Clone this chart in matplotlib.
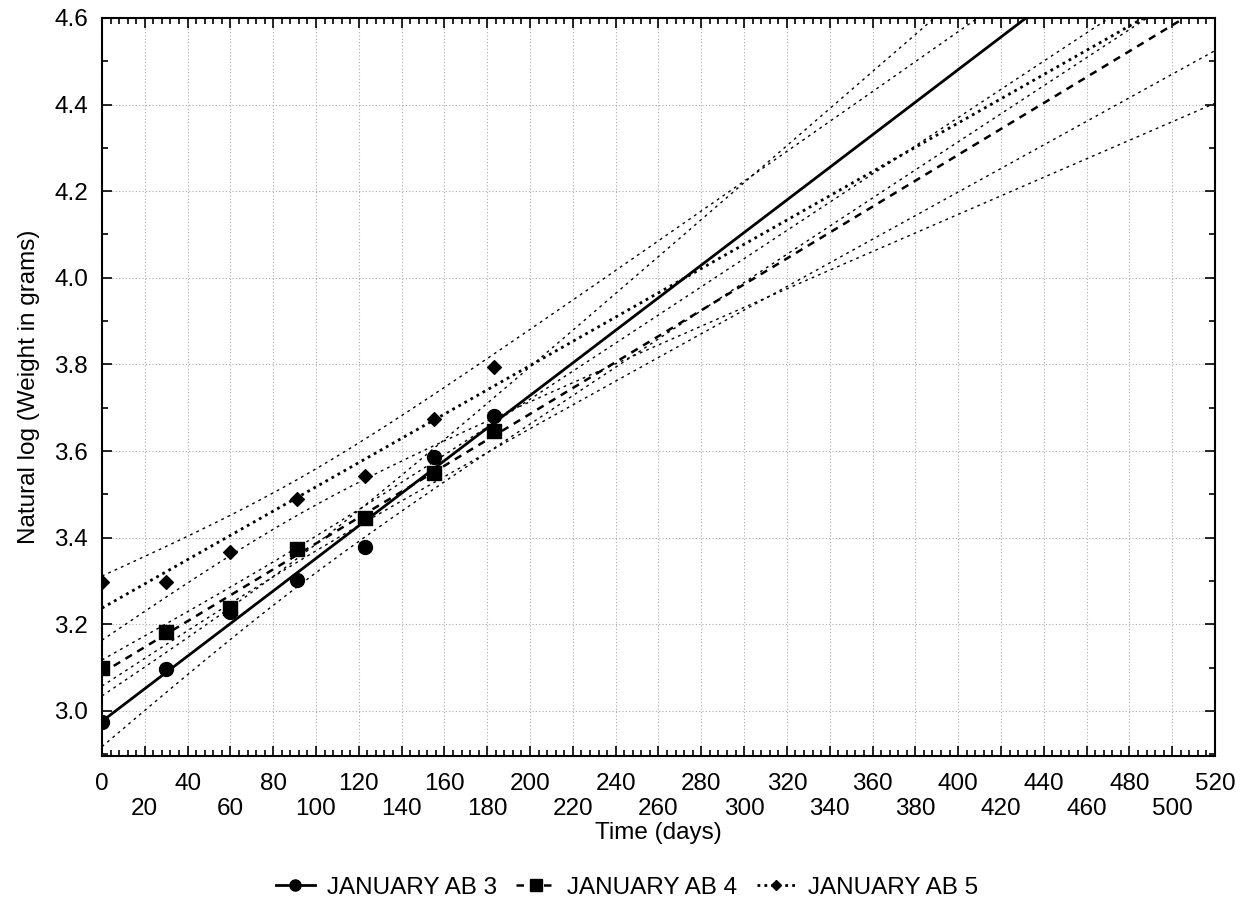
import numpy as np
import matplotlib
matplotlib.use("Agg")
import matplotlib.pyplot as plt
from matplotlib.lines import Line2D
from matplotlib.ticker import MultipleLocator

plt.rcParams["font.family"] = ["Liberation Sans", "DejaVu Sans"]

days = [0, 30, 60, 91, 123, 155, 183]
ab3 = [2.975, 3.097, 3.228, 3.303, 3.378, 3.586, 3.680]
ab4 = [3.100, 3.183, 3.237, 3.373, 3.445, 3.549, 3.646]
ab5 = [3.297, 3.298, 3.367, 3.489, 3.542, 3.673, 3.793]

labels = ["JANUARY AB 3", "JANUARY AB 4", "JANUARY AB 5"]
markers = ["o", "s", "D"]
marker_sizes = [10, 10, 7]
line_styles = ["-", (0, (3, 2.5)), (0, (1, 1.5))]
line_widths = [2.0, 1.8, 2.0]

T_975_DF5 = 2.5706
FS = 17.5

fig = plt.figure(figsize=(12.54, 9.06), dpi=100)
ax = fig.add_axes([0.0813, 0.1656, 0.8876, 0.8146])

xx = np.linspace(0, 520, 300)
x = np.array(days, dtype=float)
handles = []
for y, lab, m, ms, ls, lw in zip([ab3, ab4, ab5], labels, markers,
                                 marker_sizes, line_styles, line_widths):
    y = np.array(y)
    b, a = np.polyfit(x, y, 1)
    fit = a + b * xx
    resid = y - (a + b * x)
    n = len(x)
    s = np.sqrt(np.sum(resid ** 2) / (n - 2))
    se = s * np.sqrt(1 / n + (xx - x.mean()) ** 2 / np.sum((x - x.mean()) ** 2))
    ax.plot(xx, fit, color="black", linestyle=ls, linewidth=lw, zorder=3)
    for band in (fit - T_975_DF5 * se, fit + T_975_DF5 * se):
        ax.plot(xx, band, color="black", linestyle=(0, (2, 3)),
                linewidth=1.0, zorder=2)
    ax.scatter(x, y, marker=m, s=ms ** 2, color="black", zorder=4)
    handles.append(Line2D([], [], color="black", linestyle=ls, linewidth=lw,
                          marker=m, markersize=ms * 0.8, label=lab))

ax.set_xlim(0, 520)
ax.set_ylim(2.896, 4.6)

xticks = np.arange(0, 521, 20)
ax.set_xticks(xticks)
ax.set_xticklabels([f"{t}" if t % 40 == 0 else f"\n{t}" for t in xticks])
ax.xaxis.set_minor_locator(MultipleLocator(4))
ax.set_yticks(np.arange(3.0, 4.61, 0.2))
ax.set_yticklabels([f"{v:.1f}" for v in np.arange(3.0, 4.61, 0.2)])
ax.yaxis.set_minor_locator(MultipleLocator(0.1))

ax.tick_params(which="both", direction="in", top=True, right=True,
               labelsize=FS, width=1.2)
ax.tick_params(which="major", length=7)
ax.tick_params(axis="x", which="major", pad=12)
ax.tick_params(axis="y", which="major", pad=10)
ax.tick_params(which="minor", length=4)
for sp in ax.spines.values():
    sp.set_linewidth(1.5)

ax.grid(True, which="major", color="#aaaaaa", linestyle=(0, (1, 2)),
        linewidth=0.8)

ax.set_xlabel("Time (days)", fontsize=FS)
ax.xaxis.set_label_coords(0.5, -0.0895)
ax.set_ylabel("Natural log (Weight in grams)", fontsize=FS, labelpad=10)

fig.legend(handles=handles, loc="lower center", ncol=3, frameon=False,
           fontsize=FS, bbox_to_anchor=(0.5, -0.016), handlelength=1.6,
           columnspacing=0.8, handletextpad=0.5)

fig.savefig("out.png", dpi=100)
